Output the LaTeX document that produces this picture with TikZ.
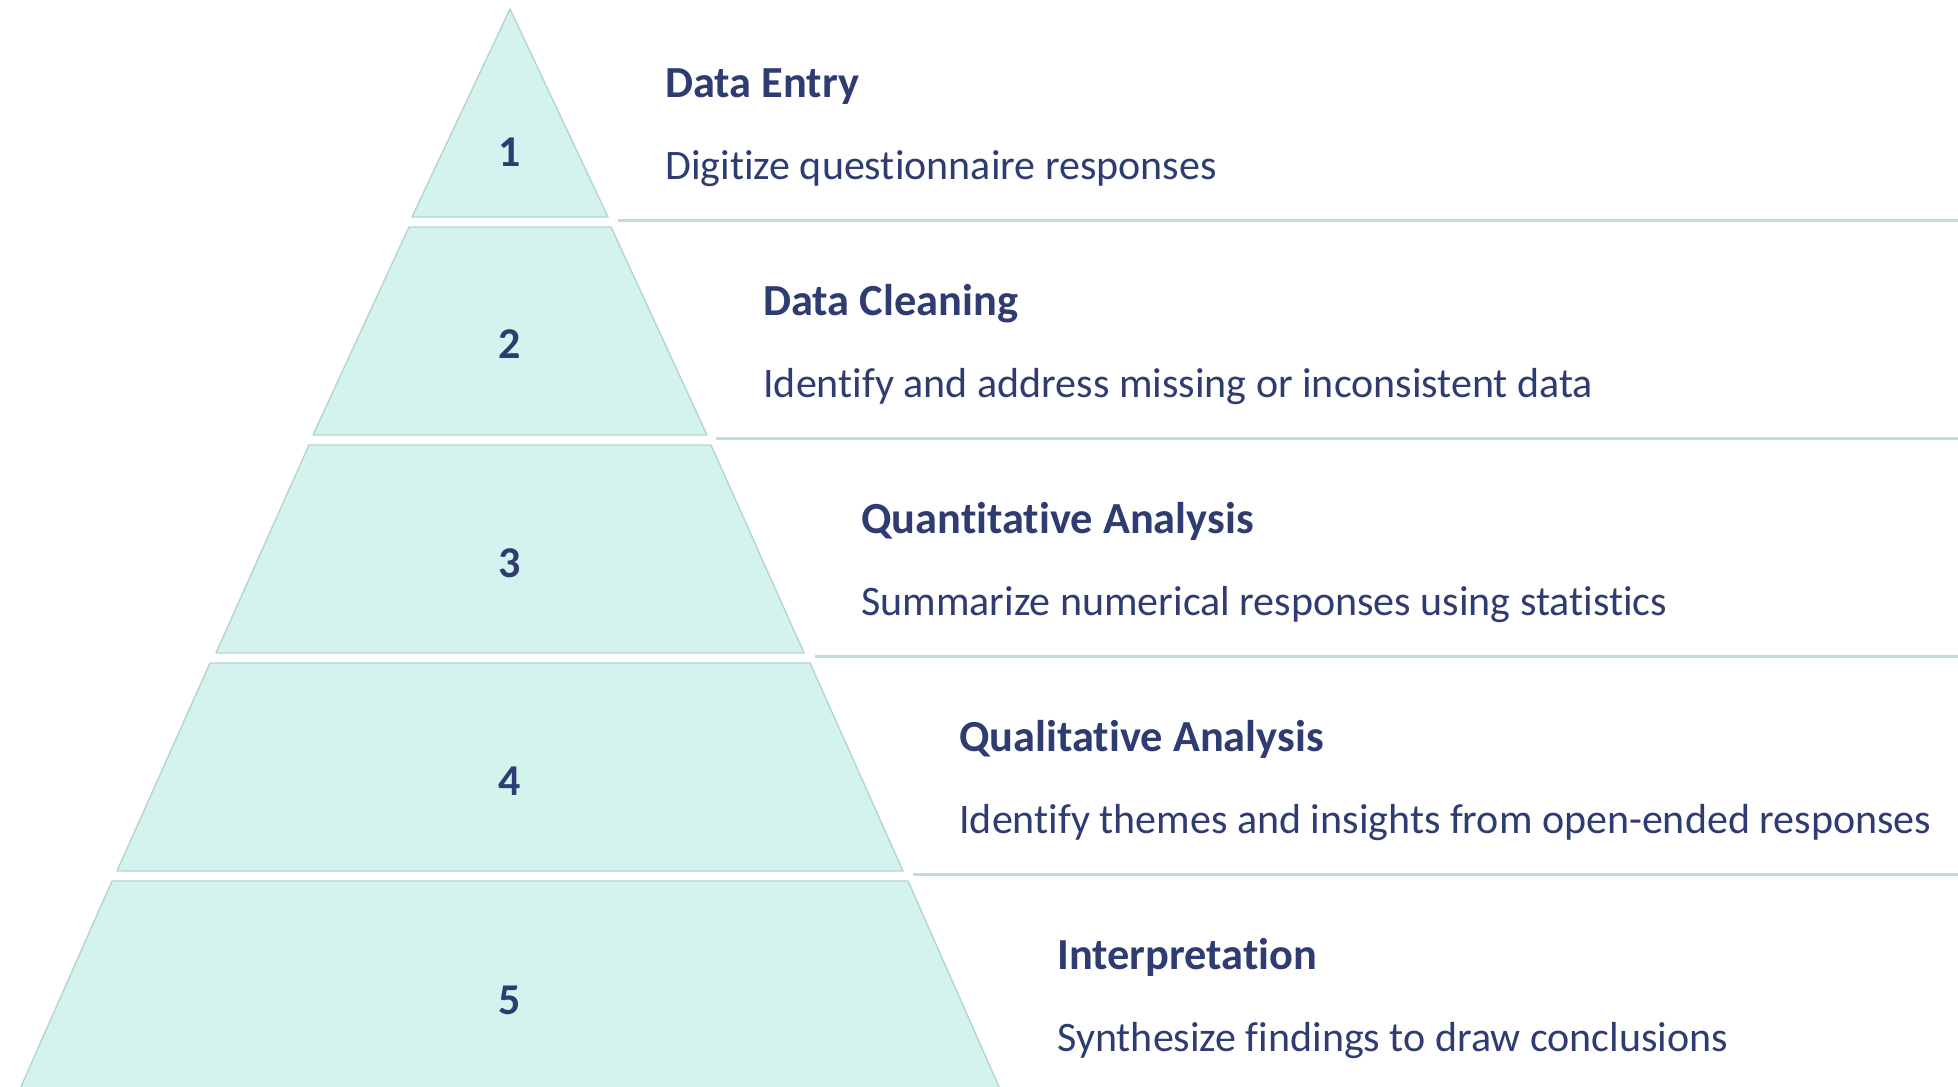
\documentclass[tikz,border=0pt]{standalone}
\usepackage{fontspec}
\setmainfont{Carlito}[Ligatures={NoCommon}]
\definecolor{layerfill}{HTML}{D5F3EE}
\definecolor{layeredge}{HTML}{B3D5CD}
\definecolor{rulecol}{HTML}{BEDED6}
\definecolor{ink}{HTML}{2F3C71}
\begin{document}
\begin{tikzpicture}[x=0.5pt,y=-0.5pt,
  layer/.style={fill=layerfill,draw=layeredge,line width=0.7pt,line join=round},
  rulestyle/.style={draw=rulecol,line width=1.8pt},
  numlabel/.style={font=\fontsize{22}{22}\selectfont\bfseries,text=ink,anchor=base,inner sep=0pt},
  titlelabel/.style={font=\fontsize{22.2}{24}\selectfont\bfseries,text=ink,anchor=base west,inner sep=0pt},
  desclabel/.style={font=\fontsize{21}{24}\selectfont,text=ink,anchor=base west,inner sep=0pt}]
\clip (0,0) rectangle (1958,1086);
\fill[white] (0,0) rectangle (1958,1086);

% pyramid layers: index / top y / top half-width / bottom half-width
\foreach \i/\yt/\ht/\hb in {1/9/0/98, 2/227/101/197, 3/445/201/294, 4/663/300/393, 5/881/398/490}{
  \draw[layer] (510-\ht,\yt) -- (510+\ht,\yt) -- (510+\hb,\yt+208) -- (510-\hb,\yt+208) -- cycle;
}

% layer numbers
\foreach \i/\yb in {1/166, 2/358, 3/577, 4/795, 5/1014}{
  \node[numlabel] (n\i) at (510,\yb) {\i};
}

% separator rules between the text rows
\foreach \i in {1,...,4}{
  \coordinate (r\i a) at ({618+98.3*(\i-1)},{220.5+218*(\i-1)});
  \coordinate (r\i b) at (1958,{220.5+218*(\i-1)});
  \draw[rulestyle] (r\i a) -- (r\i b);
}

% titles and descriptions
\foreach \i/\t/\d in {
  1/Data Entry/Digitize questionnaire responses,
  2/Data Cleaning/Identify and address missing or inconsistent data,
  3/Quantitative Analysis/Summarize numerical responses using statistics,
  4/Qualitative Analysis/Identify themes and insights from open-ended responses,
  5/Interpretation/Synthesize findings to draw conclusions}{
  \node[titlelabel] (t\i) at ({665+98*(\i-1)},{97.5+218*(\i-1)}) {\t};
  \node[desclabel] (d\i) at ({665+98*(\i-1)},{179.5+218*(\i-1)}) {\d};
}
\end{tikzpicture}
\end{document}
